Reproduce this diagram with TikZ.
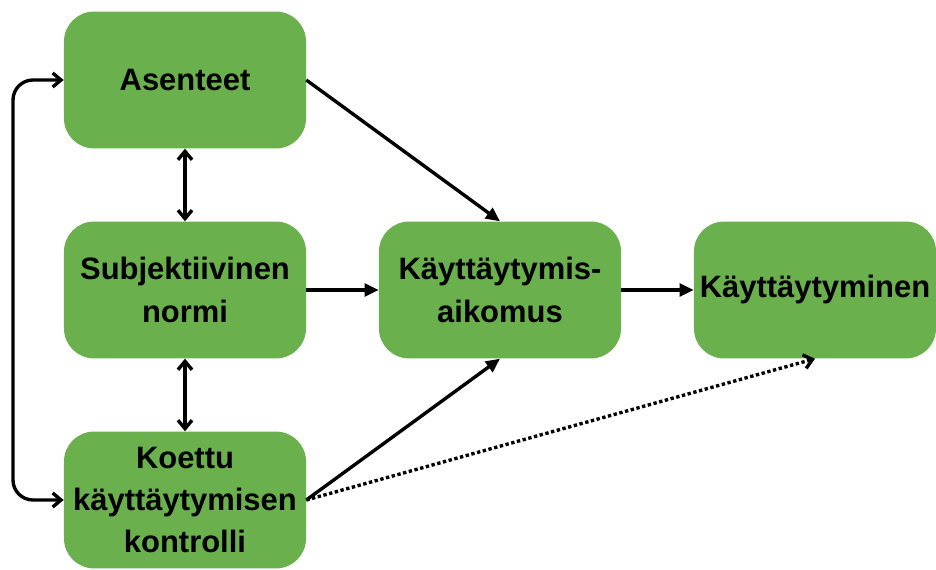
\documentclass[tikz,border=0pt]{standalone}
\usepackage{fontspec}
\setmainfont{Liberation Sans}
\usetikzlibrary{arrows.meta}
\definecolor{boxgreen}{RGB}{106,176,76}
\begin{document}
\begin{tikzpicture}[x=0.025cm, y=-0.025cm,
  box/.style = {fill = boxgreen, draw = none, rounded corners = 0.75cm,
    minimum width = 6.05cm, minimum height = 3.42cm, align = center,
    inner sep = 0pt, font = \fontsize{22}{30}\selectfont\bfseries},
  pil/.style = {line width = 2.4pt, -{Triangle[length = 10pt, width = 9pt]}},
  kaksi/.style = {line width = 2.4pt, {Straight Barb[length = 6pt, width = 10pt]}-{Straight Barb[length = 6pt, width = 10pt]}},
  piste/.style = {line width = 2.4pt, dash pattern = on 2.4pt off 1.8pt, -{Straight Barb[length = 6pt, width = 10pt]}}]
\useasboundingbox (0,0) rectangle (936,570);
\node[box] (ase) at (185,80) {Asenteet};
\node[box] (subj) at (185,290) {Subjektiivinen\\normi};
\node[box] (kont) at (185,500) {Koettu\\käyttäytymisen\\kontrolli};
\node[box] (aik) at (500,290) {Käyttäytymis-\\aikomus};
\node[box] (kay) at (815,290) {Käyttäytyminen};
% nuolet
\draw[pil] (ase.east) -- (aik.north);
\draw[pil] (subj.east) -- (aik.west);
\draw[pil] (kont.east) -- (aik.south);
\draw[pil] (aik.east) -- (kay.west);
\draw[piste] (kont.east) -- (kay.south);
\draw[kaksi] (ase.south) -- (subj.north);
\draw[kaksi] (subj.south) -- (kont.north);
\draw[kaksi, rounded corners = 0.5cm] (ase.west) -| (13,290) |- (kont.west);
\end{tikzpicture}
\end{document}
